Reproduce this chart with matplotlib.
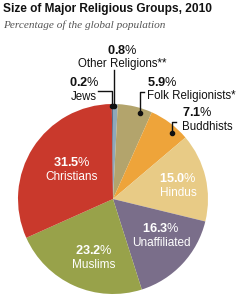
import matplotlib
matplotlib.use('Agg')
import matplotlib.pyplot as plt
from matplotlib.lines import Line2D

groups = ['Other Religions', 'Folk Religionists', 'Buddhists', 'Hindus',
          'Unaffiliated', 'Muslims', 'Christians', 'Jews']
shares = [0.8, 5.9, 7.1, 15.0, 16.3, 23.2, 31.5, 0.2]
colors = ['#8fa8ba', '#b3a46c', '#eea43a', '#e8cb86', '#7a6e8a',
          '#98a24a', '#c9392c', '#5a6f8a']
display_names = ['Other Religions**', 'Folk Religionists*', 'Buddhists', 'Hindus',
                 'Unaffiliated', 'Muslims', 'Christians', 'Jews']

plt.rcParams['font.family'] = ['Liberation Sans', 'DejaVu Sans']
plt.rcParams['mathtext.fontset'] = 'custom'
plt.rcParams['mathtext.rm'] = 'Liberation Sans'
plt.rcParams['mathtext.bf'] = 'Liberation Sans:bold'

W, H = 251, 300
fig = plt.figure(figsize=(W / 100, H / 100), dpi=100)
fig.patch.set_facecolor('white')


def px(x, y):
    return x / W, 1 - y / H


# pie centred at (113, 199) px, radius 95 px
cx, cy, r = 113, 199, 95
ax = fig.add_axes([(cx - r) / W, (H - cy - r) / H, 2 * r / W, 2 * r / H])
ax.pie(shares, colors=colors, startangle=90, counterclock=False,
       wedgeprops=dict(linewidth=0))
ax.set_xlim(-1, 1)
ax.set_ylim(-1, 1)
ax.set_aspect('auto')
ax.axis('off')

# title
fig.text(*px(3, 9), 'Size of Major Religious Groups, 2010', fontsize=8.6,
         fontweight='bold', color='#111111', va='center', ha='left')
fig.text(*px(3, 25), 'Percentage of the global population', fontsize=8.1,
         family='Liberation Serif', style='italic', color='#555555',
         va='center', ha='left')


def pct(v):
    return r'$\mathbf{%.1f}$%%' % v


# labels inside the pie (white)
inside = {'Christians': (72, 163), 'Muslims': (94, 251), 'Hindus': (178, 179),
          'Unaffiliated': (161, 229)}
for name, (x, y) in inside.items():
    i = groups.index(name)
    fig.text(*px(x, y), pct(shares[i]), fontsize=9.2, color='white',
             ha='center', va='center')
    fig.text(*px(x, y + 14), display_names[i], fontsize=8.5, color='white',
             ha='center', va='center')

# labels outside with leader lines
outside = {'Other Religions': (122, 50, 'center'), 'Jews': (84, 83, 'center'),
           'Folk Religionists': (147, 82, 'left'), 'Buddhists': (182, 113, 'left')}
for name, (x, y, ha) in outside.items():
    i = groups.index(name)
    fig.text(*px(x, y), pct(shares[i]), fontsize=9.2, color='#111111',
             ha=ha, va='center')
    fig.text(*px(x, y + 14), display_names[i], fontsize=8.3, color='#111111',
             ha=ha, va='center')

leaders = [
    [(114, 70), (114, 106)],
    [(98, 91), (112, 91), (112, 106)],
    [(144, 92), (140, 92), (140, 113)],
    [(176, 122), (172, 122), (172, 133)],
]
for pts in leaders:
    xs = [px(*p)[0] for p in pts]
    ys = [px(*p)[1] for p in pts]
    fig.add_artist(Line2D(xs, ys, color='#111111', linewidth=1.0))
    fig.add_artist(Line2D([xs[-1]], [ys[-1]], marker='o', markersize=3,
                          color='#111111', linestyle='none'))

fig.savefig('out.png', dpi=100, facecolor='white')
